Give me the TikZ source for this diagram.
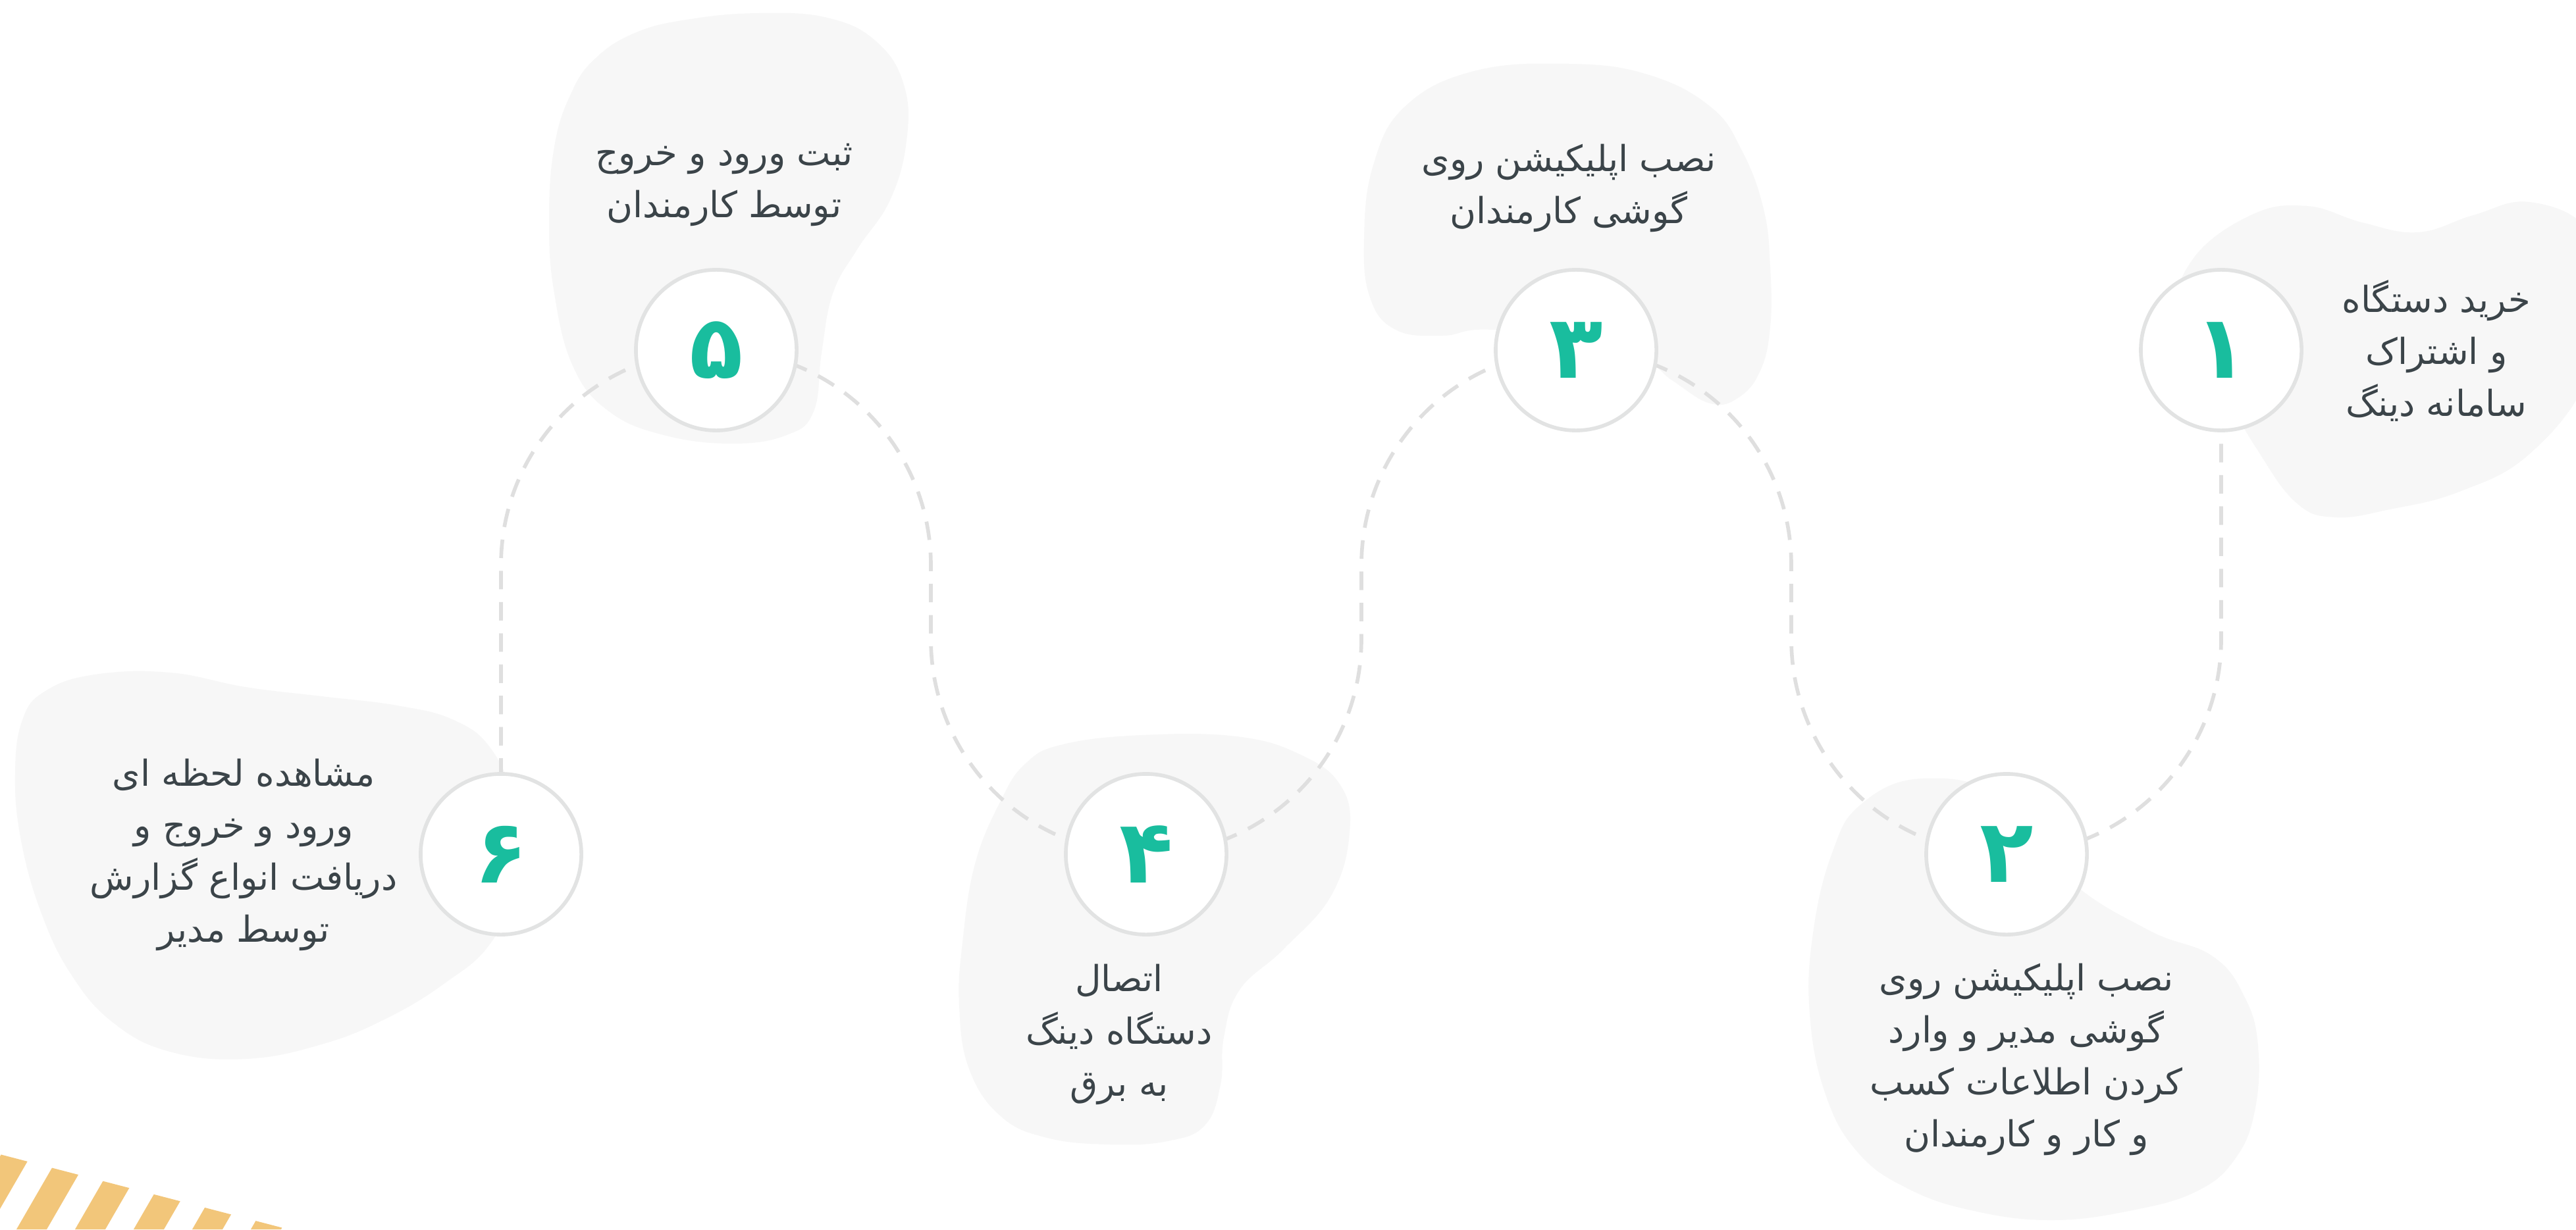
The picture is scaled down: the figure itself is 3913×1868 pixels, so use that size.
\documentclass[tikz,border=0pt]{standalone}
\usepackage{fontspec}
\usepackage{tikz}
\TeXXeTstate=1
\newfontfamily\farsi[Script=Arabic]{DejaVu Sans}

\definecolor{tealgreen}{HTML}{19BD9E}
\definecolor{inkgray}{HTML}{3B4449}
\definecolor{ringgray}{HTML}{E2E3E3}
\definecolor{dashgray}{HTML}{DFDFDF}
\definecolor{blobgray}{HTML}{F7F7F7}
\definecolor{stripeorange}{HTML}{F2C67A}

\newcommand{\fa}[1]{\beginR #1\endR}

\pgfdeclarelayer{blobs}
\pgfdeclarelayer{trail}
\pgfsetlayers{blobs,trail,main}

\tikzset{
    stepnode/.style={circle, draw=ringgray, line width=1.6pt, fill=white,
        minimum size=2.44cm, inner sep=0pt, text=tealgreen,
        font=\farsi\bfseries\fontsize{38}{38}\selectfont},
    steptext/.style={align=center, text=inkgray,
        font=\farsi\fontsize{15.5}{22.5}\selectfont},
    trailline/.style={draw=dashgray, line width=1.6pt, dash pattern=on 8pt off 5.5pt},
    blob/.style={fill=blobgray, draw=none}
}

\begin{document}
\begin{tikzpicture}[x=0.01cm, y=0.01cm]
    \useasboundingbox (0,0) rectangle (3913,1868);

    % Manchas de fondo
    \begin{pgfonlayer}{blobs}
        \fill[white] (0,0) rectangle (3913,1868);
        \fill[blob] plot[smooth cycle, tension=0.7] coordinates {(3330,1473) (3419,1541) (3504,1555) (3588,1530) (3673,1515) (3757,1541) (3842,1561) (3930,1520) (3950,1427) (3930,1293) (3842,1178) (3736,1121) (3630,1094) (3546,1082) (3487,1105) (3428,1186) (3377,1274) (3313,1388)};
        \fill[blob] plot[smooth cycle, tension=0.7] coordinates {(2827,646) (2920,685) (3043,655) (3141,533) (3263,455) (3361,415) (3410,352) (3430,278) (3425,180) (3395,107) (3337,58) (3239,29) (3116,14) (2994,29) (2896,63) (2822,117) (2773,205) (2749,327) (2754,450) (2783,572)};
        \fill[blob] plot[smooth cycle, tension=0.7] coordinates {(2239,1760) (2383,1771) (2502,1755) (2598,1706) (2646,1639) (2679,1550) (2689,1461) (2689,1372) (2674,1305) (2641,1264) (2598,1255) (2540,1290) (2460,1345) (2268,1367) (2191,1358) (2120,1367) (2081,1416) (2072,1506) (2086,1617) (2134,1706)};
        \fill[blob] plot[smooth cycle, tension=0.7] coordinates {(1558,708) (1615,737) (1735,751) (1878,749) (1974,722) (2036,675) (2050,603) (2022,507) (1950,426) (1883,364) (1859,292) (1854,220) (1830,158) (1773,134) (1687,129) (1591,139) (1520,172) (1472,244) (1457,340) (1462,435) (1481,555) (1520,651)};
        \fill[blob] plot[smooth cycle, tension=0.7] coordinates {(904,1779) (967,1819) (1049,1839) (1153,1848) (1257,1841) (1331,1805) (1373,1739) (1377,1654) (1352,1564) (1302,1489) (1265,1422) (1248,1332) (1236,1243) (1195,1207) (1112,1194) (1008,1207) (925,1243) (871,1310) (842,1422) (834,1533) (842,1645) (867,1725)};
        \fill[blob] plot[smooth cycle, tension=0.7] coordinates {(69,818) (144,843) (258,846) (373,824) (488,810) (603,796) (689,774) (746,730) (781,647) (792,536) (746,436) (677,375) (586,320) (488,281) (373,259) (258,270) (172,314) (109,386) (63,480) (32,591) (23,691) (34,774)};

        % Rayas
        \begin{scope}
            \clip (0,114) -- (438,0) -- (0,0) -- cycle;
            \foreach \i in {0,...,5}
                \fill[stripeorange] ({10+89*\i},128) -- ({56+89*\i},128) -- ({-18+89*\i},0) -- ({-64+89*\i},0) -- cycle;
        \end{scope}
    \end{pgfonlayer}

    % Pasos
    \node[stepnode] (n1) at (3374,1336) {\fa{۱}};
    \node[stepnode] (n2) at (3048,570) {\fa{۲}};
    \node[stepnode] (n3) at (2394,1336) {\fa{۳}};
    \node[stepnode] (n4) at (1741,570) {\fa{۴}};
    \node[stepnode] (n5) at (1088,1336) {\fa{۵}};
    \node[stepnode] (n6) at (761,570) {\fa{۶}};

    % Textos
    \node[steptext] (t1) at (3701,1335) {\fa{خرید دستگاه}\\\fa{و اشتراک}\\\fa{سامانه دینگ}};
    \node[steptext] (t2) at (3078,258) {\fa{نصب اپلیکیشن روی}\\\fa{گوشی مدیر و وارد}\\\fa{کردن اطلاعات کسب}\\\fa{و کار و کارمندان}};
    \node[steptext] (t3) at (2383,1582) {\fa{نصب اپلیکیشن روی}\\\fa{گوشی کارمندان}};
    \node[steptext] (t4) at (1700,296) {\fa{اتصال}\\\fa{دستگاه دینگ}\\\fa{به برق}};
    \node[steptext] (t5) at (1100,1587) {\fa{ثبت ورود و خروج}\\\fa{توسط کارمندان}};
    \node[steptext] (t6) at (370,569) {\fa{مشاهده لحظه ای}\\\fa{ورود و خروج و}\\\fa{دریافت انواع گزارش}\\\fa{توسط مدیر}};

    % Camino punteado
    \begin{pgfonlayer}{trail}
        \draw[trailline] (n1.center) -- ++(0,-439) to[out=-90, in=0] (n2.center);
        \draw[trailline] (n2.center) to[out=180, in=-90] ++(-327,327) -- ++(0,112) to[out=90, in=0] (n3.center);
        \draw[trailline] (n3.center) to[out=180, in=90] ++(-326,-327) -- ++(0,-112) to[out=-90, in=0] (n4.center);
        \draw[trailline] (n4.center) to[out=180, in=-90] ++(-327,327) -- ++(0,112) to[out=90, in=0] (n5.center);
        \draw[trailline] (n5.center) to[out=180, in=90] ++(-327,-327) -- (n6.center);
    \end{pgfonlayer}
\end{tikzpicture}
\end{document}
